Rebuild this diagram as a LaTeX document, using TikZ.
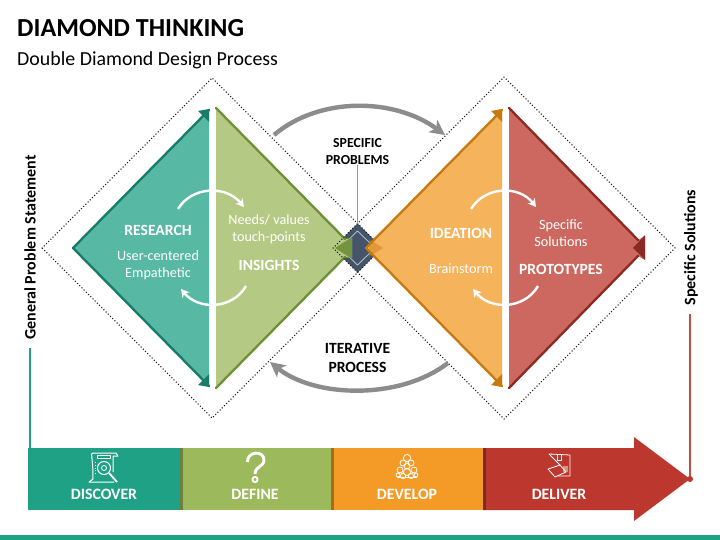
\documentclass[tikz,border=0pt]{standalone}
\usepackage{fontspec}
\setmainfont{Carlito}
\usetikzlibrary{arrows.meta,calc}
\definecolor{tealfill}{HTML}{57B8A3}
\definecolor{tealline}{HTML}{167C68}
\definecolor{tealbar}{HTML}{1FA185}
\definecolor{greenfill}{HTML}{B4CA84}
\definecolor{greenline}{HTML}{6F8E36}
\definecolor{greenbar}{HTML}{9CBA5C}
\definecolor{orangefill}{HTML}{F5B35C}
\definecolor{orangeline}{HTML}{C57A10}
\definecolor{orangebar}{HTML}{F39A27}
\definecolor{redfill}{HTML}{CD6860}
\definecolor{redline}{HTML}{8A2A24}
\definecolor{redbar}{HTML}{BC372D}
\definecolor{navy}{HTML}{44546A}
\definecolor{arcgrey}{HTML}{8C8C8C}
\tikzset{
  x=1pt,y=-1pt,
  outline/.style={draw=#1,line width=2.3pt,line join=round,line cap=round},
  tipmark/.style={fill=#1,draw=none},
  dotline/.style={draw=black!90,line width=1.5pt,line cap=round,dash pattern=on 0pt off 3.1pt},
  whitearc/.style={draw=white,line width=2.4pt,-{Stealth[length=8pt,width=9pt]}},
  greyarc/.style={draw=arcgrey,line width=4.4pt,-{Stealth[length=15pt,width=15pt,inset=4pt]}},
  wlabel/.style={text=white,font=\fontsize{14.2}{17}\selectfont,align=center,inner sep=0pt},
  wbold/.style={text=white,font=\fontsize{15.6}{17}\bfseries\selectfont,align=center,inner sep=0pt},
  blabel/.style={text=black,font=\fontsize{15.6}{19}\bfseries\selectfont,align=center,inner sep=0pt},
  barlabel/.style={text=white,font=\fontsize{15.8}{17}\bfseries\selectfont,inner sep=0pt},
  sidelabel/.style={text=black,rotate=90,font=\fontsize{16}{18}\bfseries\selectfont,inner sep=0pt},
  icon/.style={draw=white,line width=1pt,line join=round,fill=none},
}
\begin{document}
\begin{tikzpicture}
\useasboundingbox (0,0) rectangle (720,540);
\fill[white] (0,0) rectangle (720,540);
\fill[tealbar] (0,535) rectangle (720,540);

% headings
\node[anchor=base west,inner sep=0pt,font=\fontsize{26}{28}\bfseries\selectfont] (title) at (17,37) {DIAMOND THINKING};
\node[anchor=base west,inner sep=0pt,font=\fontsize{19.9}{22}\selectfont] (subtitle) at (17,66) {Double Diamond Design Process};

% overlap of the two outer diamonds
\fill[navy] (333,248) -- (357.5,223.5) -- (382,248) -- (357.5,272.5) -- cycle;
\draw[white!70!navy,line width=.7pt] (340,248) -- (357.5,231) -- (375,248) -- (357.5,265) -- cycle;

% outer dotted diamonds
\draw[dotline] (42,248) -- (212,78) -- (382,248) -- (212,418) -- cycle;
\draw[dotline] (333,248) -- (504,77) -- (675,248) -- (504,419) -- cycle;

% discover half
\fill[tealfill] (73,248) -- (209,110) -- (209,386) -- cycle;
\draw[outline=tealline] (209,110) -- (73,248) -- (209,386);
\fill[tipmark=tealline] (209,109) -- (198,111) -- (209,122) -- cycle;
\fill[tipmark=tealline] (209,387) -- (198,385) -- (209,374) -- cycle;

% define half, its point cut back behind a left-facing tip
\fill[greenfill] (216,108) -- (345,239) -- (352,238) -- (352,258) -- (345,257) -- (216,388) -- cycle;
\draw[outline=greenline] (216,108) -- (345,239);
\draw[outline=greenline] (216,388) -- (345,257);
\fill[tipmark=greenline,opacity=.9] (335,248) -- (352,237) -- (352,259) -- cycle;
\begin{scope}
  \clip (330,236) rectangle (346,260);
  \draw[dotline] (333,248) -- (504,77) -- (675,248) -- (504,419) -- cycle;
\end{scope}

% develop half
\fill[orangefill] (502,110) -- (366,248) -- (502,386) -- cycle;
\draw[outline=orangeline] (502,110) -- (366,248) -- (502,386);
\fill[tipmark=orangeline] (502,109) -- (491,111) -- (502,122) -- cycle;
\fill[tipmark=orangeline] (502,387) -- (491,385) -- (502,374) -- cycle;
\fill[tipmark=orangeline,opacity=.45] (383,248) -- (369,239) -- (369,257) -- cycle;

% deliver half, with a left-facing tip at its point
\fill[redfill] (509,108) -- (638,240) -- (645,236) -- (645,260) -- (638,256) -- (509,388) -- cycle;
\draw[outline=redline] (509,108) -- (638,240);
\draw[outline=redline] (509,388) -- (638,256);
\fill[tipmark=redline] (633,248) -- (645,235) -- (645,260) -- cycle;

% iteration arrows inside the diamonds
\draw[whitearc] (178,209) .. controls (192,186) and (226,185) .. (244,207);
\draw[whitearc] (246,286) .. controls (232,310) and (198,310) .. (181,289);
\draw[whitearc] (471,209) .. controls (485,186) and (519,185) .. (536,207);
\draw[whitearc] (538,286) .. controls (524,310) and (490,310) .. (473,289);

% arcs between the diamonds
\draw[greyarc] (274,135) .. controls (320,96) and (395,98) .. (445,135);
\draw[greyarc] (448,363) .. controls (400,400) and (315,398) .. (270,362);

% central labels
\node[blabel,font=\fontsize{13.8}{17}\bfseries\selectfont] (problems) at (357.5,151.5) {SPECIFIC\\PROBLEMS};
\coordinate (overlaptop) at (357.5,224);
\draw[color=navy!60,line width=1pt] (problems.south -| overlaptop) -- (overlaptop);
\node[blabel] (iterative) at (357.5,357.5) {ITERATIVE\\PROCESS};

% labels inside the diamonds
\node[wbold] (research) at (158,230) {RESEARCH};
\node[wlabel] (empathetic) at (158,265.5) {User-centered\\Empathetic};
\node[wlabel] (needs) at (269,229.5) {Needs/ values\\touch-points};
\node[wbold] (insights) at (269,265) {INSIGHTS};
\node[wbold] (ideation) at (461,233) {IDEATION};
\node[wlabel] (brainstorm) at (461,269) {Brainstorm};
\node[wlabel] (specsol) at (561,233.5) {Specific\\Solutions};
\node[wbold] (prototypes) at (561,269) {PROTOTYPES};

% process bar
\fill[redbar] (483,448) -- (634,448) -- (634,437) -- (690,479) -- (634,521) -- (634,510) -- (483,510) -- cycle;
\fill[orangebar] (332,448) rectangle (483,510);
\fill[greenbar] (180,448) rectangle (332,510);
\fill[tealbar] (28,448) rectangle (180,510);
\fill[black,opacity=.3] (180,448) rectangle (182.5,510);
\fill[black,opacity=.3] (331,448) rectangle (333.5,510);
\fill[black,opacity=.3] (483,448) rectangle (485.5,510);

\node[barlabel] (discover) at (104,494.5) {DISCOVER};
\node[barlabel] (define) at (255,494.5) {DEFINE};
\node[barlabel] (develop) at (407,494.5) {DEVELOP};
\node[barlabel] (deliver) at (559,494.5) {DELIVER};

% side statements
\node[sidelabel] (general) at (30,247.5) {General Problem Statement};
\node[sidelabel] (solutions) at (691,247.5) {Specific Solutions};
\coordinate (barstart) at (30,448);
\coordinate (barend) at (690,479);
\draw[tealbar,line width=1.5pt] (30,348) -- (barstart);
\draw[redbar!90!white,line width=1.5pt] (690,314) -- (barend);
\fill[redbar] (barend) circle (3);

% scroll and magnifier
\draw[icon] (93,453) -- (116,453) -- (118,456) -- (113,456) -- (113,472);
\draw[icon] (93,453) .. controls (90,453) and (93,456) .. (93,479) -- (89,482) -- (114,482);
\draw[icon] (97,455) rectangle (110,458);
\draw[icon] (104,468) circle (6.5);
\draw[icon,line width=.8pt] (104,468) circle (2.5);
\draw[icon,line width=1.8pt] (109,473) -- (117,482);
\draw[icon,line width=.8pt,dotted] (95,462) -- (95,476);

% question mark
\draw[icon,line width=2.9pt] (247.5,462) .. controls (247,451) and (264,450) .. (264,460) .. controls (264,467) and (255,466) .. (255,474);
\draw[icon,line width=1.9pt] (255,479.5) circle (2.6);

% group of people
\foreach \px/\py/\pr in {407/458/3.6,403/463/3,411/463/3,407/466/3,400/470/3,407/472/3.5,414/470/3,403/476/2.6,411/476/2.6,398/475/2,416/475/2}
  \draw[icon,line width=.8pt] (\px,\py) circle (\pr);
\draw[icon,line width=.9pt] (397,477.5) -- (417,477.5);

% floor plan
\draw[icon,line width=.8pt] (549,454) -- (570,455) -- (570,476) -- (558,476);
\draw[icon,line width=.8pt] (557,455) -- (557,460) -- (561,460) -- (561,455);
\draw[icon,line width=.8pt] (549,454) -- (560,465) -- (548,469) -- (555,477);
\draw[icon,line width=.8pt] (560,465) -- (566,472) -- (555,477);
\fill[white,opacity=.45] (563,466) rectangle (568,472);
\end{tikzpicture}
\end{document}
